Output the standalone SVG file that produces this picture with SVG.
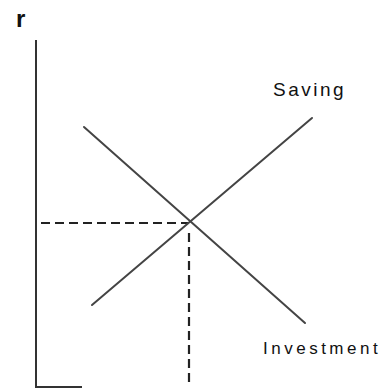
<svg xmlns="http://www.w3.org/2000/svg" width="388" height="389" viewBox="0 0 388 389">
<style>
.axis{stroke:#333;stroke-width:2;fill:none}
.curve{stroke:#444;stroke-width:2;fill:none;stroke-linecap:round}
.dash{stroke:#222;stroke-width:2.2;fill:none;stroke-dasharray:9,5}
.lbl{font-family:"Liberation Sans",Arial,sans-serif;fill:#111}
</style>
<rect width="388" height="389" fill="#fff"/>
<g id="axes">
<path class="axis" d="M36,40 V387 H82"/>
<text class="lbl" x="16" y="27" font-size="24" font-weight="bold">r</text>
</g>
<g id="connectors">
<line class="dash" x1="41" y1="223" x2="188" y2="223"/>
<line class="dash" x1="189" y1="233" x2="189" y2="383"/>
</g>
<g id="investment">
<line class="curve" x1="84" y1="127" x2="305" y2="323"/>
<text class="lbl" x="263" y="354" font-size="17" letter-spacing="3.5">Investment</text>
</g>
<g id="saving">
<line class="curve" x1="92" y1="305" x2="312" y2="118"/>
<text class="lbl" x="273" y="96" font-size="19" letter-spacing="2.5">Saving</text>
</g>
</svg>
